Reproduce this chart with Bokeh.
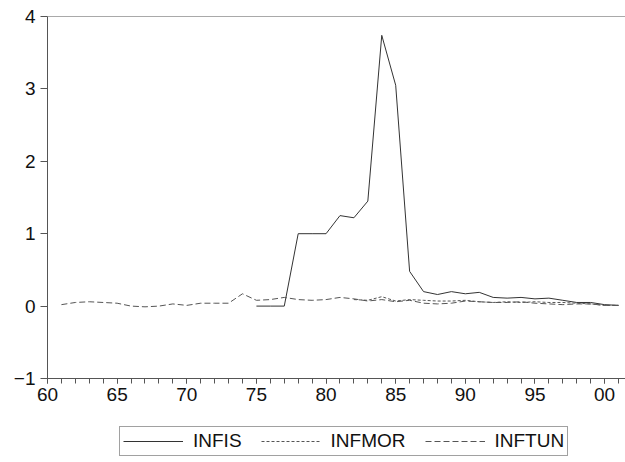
from bokeh.plotting import figure
from bokeh.models import FixedTicker, Span, Legend, LegendItem, Range1d
from bokeh.layouts import column
from bokeh.embed import file_html
from bokeh.resources import INLINE

# ---- data ----
years_infis = list(range(1975, 2002))
infis = [0.0, 0.0, 0.0, 1.0, 1.0, 1.0, 1.25, 1.22, 1.45, 3.74, 3.05, 0.48,
         0.20, 0.16, 0.20, 0.17, 0.19, 0.12, 0.11, 0.12, 0.10, 0.11, 0.08,
         0.05, 0.05, 0.02, 0.01]

years_inftun = list(range(1961, 2002))
inftun = [0.02, 0.05, 0.06, 0.05, 0.04, 0.00, -0.01, 0.00, 0.03, 0.01,
          0.04, 0.04, 0.04, 0.17, 0.08, 0.09, 0.12, 0.09, 0.08, 0.09,
          0.12, 0.10, 0.07, 0.09, 0.06, 0.08, 0.04, 0.03, 0.04, 0.07,
          0.06, 0.05, 0.05, 0.06, 0.04, 0.03, 0.02, 0.03, 0.03, 0.01, 0.01]

years_infmor = list(range(1982, 2002))
infmor = [0.09, 0.08, 0.13, 0.07, 0.09, 0.08, 0.07, 0.07, 0.08, 0.06,
          0.05, 0.06, 0.05, 0.06, 0.05, 0.05, 0.04, 0.03, 0.01, 0.01]

series_names = ["INFIS", "INFMOR", "INFTUN"]

x_major = [1960, 1965, 1970, 1975, 1980, 1985, 1990, 1995, 2000]
x_labels = ["60", "65", "70", "75", "80", "85", "90", "95", "00"]
y_ticks = [-1, 0, 1, 2, 3, 4]

FONT = "Liberation Sans"
MAIN_H = 410

p = figure(width=625, height=MAIN_H, output_backend="svg", toolbar_location=None,
           x_range=Range1d(1960, 2001.5), y_range=Range1d(-1, 4),
           min_border_left=47, min_border_right=0, min_border_top=16,
           min_border_bottom=MAIN_H - 378)
p.outline_line_color = None
p.grid.visible = False
p.background_fill_color = "white"
p.border_fill_color = "white"

# axes
p.xaxis.ticker = FixedTicker(ticks=x_major, minor_ticks=list(range(1960, 2002)))
p.xaxis.major_label_overrides = {x: l for x, l in zip(x_major, x_labels)}
p.yaxis.ticker = FixedTicker(ticks=y_ticks, minor_ticks=[])
for ax in (p.xaxis, p.yaxis):
    ax.axis_line_color = "#555555"
    ax.major_tick_line_color = "#555555"
    ax.minor_tick_line_color = "#555555"
    ax.major_tick_in = 0
    ax.minor_tick_in = 0
    ax.major_label_text_font = FONT
    ax.major_label_text_font_size = "19px"
    ax.major_label_text_color = "#111111"
p.xaxis.major_tick_out = 5
p.xaxis.minor_tick_out = 5
p.xaxis.major_label_standoff = 4
p.yaxis.major_tick_out = 7
p.yaxis.minor_tick_out = 0
p.yaxis.major_label_standoff = 5

p.add_layout(Span(location=4, dimension="width", line_color="#555555", line_width=1))

styles = [dict(line_color="#333333", line_width=1),
          dict(line_color="#555555", line_width=1, line_dash="3 2"),
          dict(line_color="#555555", line_width=1, line_dash="6 3")]

p.line(years_infis, infis, **styles[0])
p.line(years_infmor, infmor, **styles[1])
p.line(years_inftun, inftun, **styles[2])

# legend strip below the chart (its lines lie outside its visible range)
q = figure(width=625, height=462 - MAIN_H, output_backend="svg", toolbar_location=None,
           x_axis_type=None, y_axis_type=None,
           x_range=Range1d(0, 1), y_range=Range1d(0, 1),
           min_border_left=0, min_border_right=0, min_border_top=0, min_border_bottom=0)
q.grid.visible = False
q.outline_line_color = None
q.border_fill_color = "white"
items = []
for name, st in zip(series_names, styles):
    r = q.line([-5, -4], [-5, -4], **st)
    items.append(LegendItem(label=name, renderers=[r]))

legend = Legend(items=items, location=(72, 6), orientation="horizontal",
                label_text_font=FONT, label_text_font_size="19px",
                label_text_color="#111111",
                glyph_width=60, glyph_height=18, label_standoff=10, spacing=19,
                padding=3, margin=0, border_line_color="#444444",
                border_line_width=1, background_fill_color="white",
                background_fill_alpha=1.0, label_height=18)
q.add_layout(legend, "center")

layout = column(p, q, spacing=0)
open("out.html", "w").write(file_html(layout, INLINE))
